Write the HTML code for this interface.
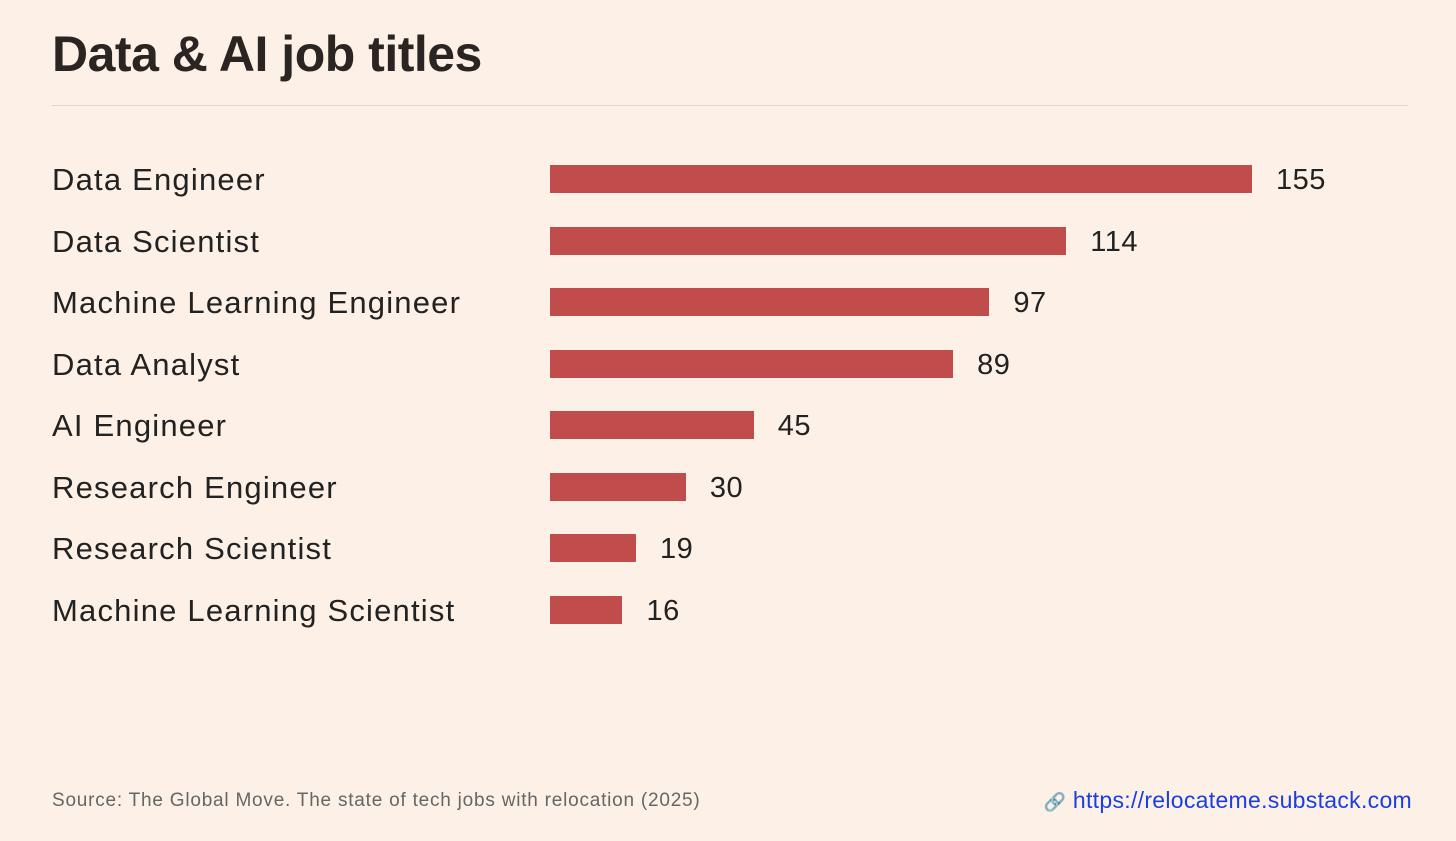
<!DOCTYPE html>
<html><head><meta charset="utf-8"><style>
body{margin:0;width:1456px;height:841px;background:#fdf0e6;font-family:"Liberation Sans",sans-serif;overflow:hidden;position:relative;color:#222}
#title{position:absolute;left:52px;top:25px;font-size:50px;font-weight:bold;color:#2a2522;letter-spacing:-0.5px}
#rule{position:absolute;left:52px;top:105px;width:1356px;height:1px;background:#ddd6cc}
.lab{position:absolute;left:52px;font-size:31px;letter-spacing:1.2px;color:#222;white-space:nowrap}
.bar{position:absolute;background:#c04c4c;height:28px}
.val{position:absolute;font-size:29px;letter-spacing:0.5px;color:#222}
#src{position:absolute;left:52px;top:790px;font-size:19px;letter-spacing:0.78px;color:#666}
#link{position:absolute;right:44px;top:787px;font-size:23px;letter-spacing:0.3px;color:#1a3fe0}
</style></head><body>
<div id="title">Data &amp; AI job titles</div>
<div id="rule"></div>
<div id="chart"></div>
<div id="src">Source: The Global Move. The state of tech jobs with relocation (2025)</div>
<div id="link"><span style="font-size:18px">🔗</span> https://relocateme.substack.com</div>
<script>
const categories=["Data Engineer","Data Scientist","Machine Learning Engineer","Data Analyst","AI Engineer","Research Engineer","Research Scientist","Machine Learning Scientist"];
const values=[155,114,97,89,45,30,19,16];
const x0=550, maxV=155, maxW=702;
function xs(v){return v/maxV*maxW;}
function yc(i){return 179+i*61.5;}
const c=document.getElementById('chart');
categories.forEach((cat,i)=>{
  const l=document.createElement('div');l.className='lab';
  
  
  l.style.top=(yc(i)-17)+'px';l.textContent=cat;c.appendChild(l);
  const b=document.createElement('div');b.className='bar';
  
  
  b.style.left=x0+'px';b.style.top=(yc(i)-14)+'px';b.style.width=xs(values[i])+'px';c.appendChild(b);
  const v=document.createElement('div');v.className='val';
  
  
  v.style.left=(x0+xs(values[i])+24)+'px';v.style.top=(yc(i)-15)+'px';v.textContent=values[i];c.appendChild(v);
});
</script>
</body></html>
